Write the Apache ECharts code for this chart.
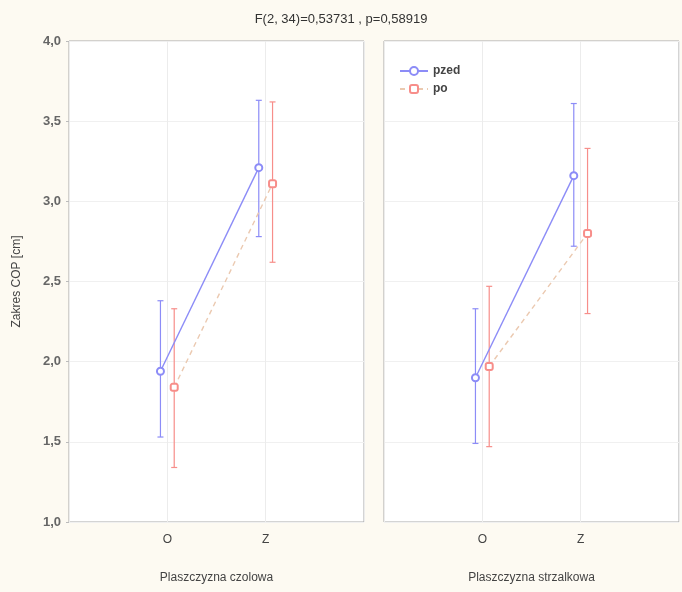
<!DOCTYPE html>
<html><head><meta charset="utf-8">
<script src="https://cdn.jsdelivr.net/npm/echarts@6/dist/echarts.min.js"></script>
<style>html,body{margin:0;padding:0;background:#fdfaf2;}#c{width:682px;height:592px;}</style>
</head><body><div id="c"></div>
<script>
const titleText = 'F(2, 34)=0,53731 , p=0,58919';
const yName = 'Zakres COP [cm]';
const categories = ['O', 'Z'];
const panels = ['Plaszczyzna czolowa', 'Plaszczyzna strzalkowa'];
const groups = ['pzed', 'po'];
const yTicks = [1.0, 1.5, 2.0, 2.5, 3.0, 3.5, 4.0];

// left panel (czolowa)
const pzedMeanL = [1.94, 3.21];
const pzedLowL  = [1.53, 2.78];
const pzedHighL = [2.38, 3.63];
const poMeanL   = [1.84, 3.11];
const poLowL    = [1.34, 2.62];
const poHighL   = [2.33, 3.62];
// right panel (strzalkowa)
const pzedMeanR = [1.90, 3.16];
const pzedLowR  = [1.49, 2.72];
const pzedHighR = [2.33, 3.61];
const poMeanR   = [1.97, 2.80];
const poLowR    = [1.47, 2.30];
const poHighR   = [2.47, 3.33];

const blue = '#8c8cf7';
const red = '#f78e8a';
const dashCol = '#ebc9b0';
const offs = [-0.07, 0.07];

function pts(mean, off) { return mean.map((v, i) => [i + 1 + off, v]); }
function bars(low, high, off) { return low.map((v, i) => [i + 1 + off, v, high[i]]); }

function errSeries(idx, low, high, off, color) {
  return {
    type: 'custom', xAxisIndex: idx, yAxisIndex: idx, silent: true, z: 2,
    data: bars(low, high, off),
    renderItem: function (params, api) {
      const x = api.value(0);
      const a = api.coord([x, api.value(1)]);
      const b = api.coord([x, api.value(2)]);
      const st = { stroke: color, lineWidth: 1.2 };
      const w = 3;
      return { type: 'group', children: [
        { type: 'line', shape: { x1: a[0], y1: a[1], x2: b[0], y2: b[1] }, style: st },
        { type: 'line', shape: { x1: a[0] - w, y1: a[1], x2: a[0] + w, y2: a[1] }, style: st },
        { type: 'line', shape: { x1: b[0] - w, y1: b[1], x2: b[0] + w, y2: b[1] }, style: st }
      ]};
    }
  };
}
function meanSeries(idx, name, mean, off, color, lineColor, dashed, symbol) {
  return {
    type: 'line', name: name, xAxisIndex: idx, yAxisIndex: idx, z: 3,
    data: pts(mean, off), symbol: symbol, symbolSize: 7,
    itemStyle: { color: color, borderColor: color, borderWidth: 1.2 },
    lineStyle: { color: lineColor, width: 1.4, type: dashed ? [5, 4] : 'solid' },
    emphasis: { disabled: true }, animation: false
  };
}

const fmtY = v => v.toFixed(1).replace('.', ',');
function xAxis(idx) {
  return {
    type: 'value', gridIndex: idx, min: 0, max: 3, interval: 1,
    name: panels[idx], nameLocation: 'middle', nameGap: 50,
    nameTextStyle: { fontFamily: 'Liberation Sans', fontSize: 12, color: '#444' },
    axisLine: { show: false }, axisTick: { show: false },
    axisLabel: { margin: 12, fontFamily: 'Liberation Sans', fontSize: 12, color: '#444',
      formatter: v => (v >= 1 && v <= categories.length) ? categories[v - 1] : '' },
    splitLine: { show: true, lineStyle: { color: '#ececec', width: 1 } }
  };
}
function yAxis(idx) {
  return {
    type: 'value', gridIndex: idx, min: yTicks[0], max: yTicks[yTicks.length - 1], interval: 0.5,
    name: idx === 0 ? yName : '', nameLocation: 'middle', nameGap: 46,
    nameTextStyle: { fontFamily: 'Liberation Sans', fontSize: 12, color: '#444' },
    axisLine: { show: false },
    axisTick: { show: idx === 0, length: 3, lineStyle: { color: '#bbb' } },
    axisLabel: { show: idx === 0, margin: 8, fontFamily: 'Liberation Sans', fontSize: 13, fontWeight: 'bold', color: '#666', formatter: fmtY },
    splitLine: { show: true, lineStyle: { color: '#f0f0f0', width: 1 } }
  };
}

const chart = echarts.init(document.getElementById('c'), null, { renderer: 'canvas' });
chart.setOption({
  backgroundColor: '#fdfaf2',
  animation: false,
  title: { text: titleText, left: 'center', top: 8,
    textStyle: { fontFamily: 'Liberation Sans', fontSize: 13, fontWeight: 'normal', color: '#333' } },
  legend: {
    data: groups, orient: 'vertical', left: 394, top: 60, itemGap: 6,
    itemWidth: 28, itemHeight: 10,
    textStyle: { fontFamily: 'Liberation Sans', fontSize: 12, fontWeight: 'bold', color: '#444' }
  },
  grid: [
    { left: 69, right: 318, top: 41, bottom: 70, show: true, backgroundColor: '#ffffff', borderColor: '#a8a8a8', borderWidth: 1 },
    { left: 384, right: 2, top: 41, bottom: 70, show: true, backgroundColor: '#ffffff', borderColor: '#a8a8a8', borderWidth: 1 }
  ],
  xAxis: [xAxis(0), xAxis(1)],
  yAxis: [yAxis(0), yAxis(1)],
  series: [
    errSeries(0, pzedLowL, pzedHighL, offs[0], blue),
    errSeries(0, poLowL, poHighL, offs[1], red),
    meanSeries(0, groups[0], pzedMeanL, offs[0], blue, blue, false, 'emptyCircle'),
    meanSeries(0, groups[1], poMeanL, offs[1], red, dashCol, true, 'emptyRoundRect'),
    errSeries(1, pzedLowR, pzedHighR, offs[0], blue),
    errSeries(1, poLowR, poHighR, offs[1], red),
    meanSeries(1, groups[0], pzedMeanR, offs[0], blue, blue, false, 'emptyCircle'),
    meanSeries(1, groups[1], poMeanR, offs[1], red, dashCol, true, 'emptyRoundRect')
  ]
});
</script></body></html>
